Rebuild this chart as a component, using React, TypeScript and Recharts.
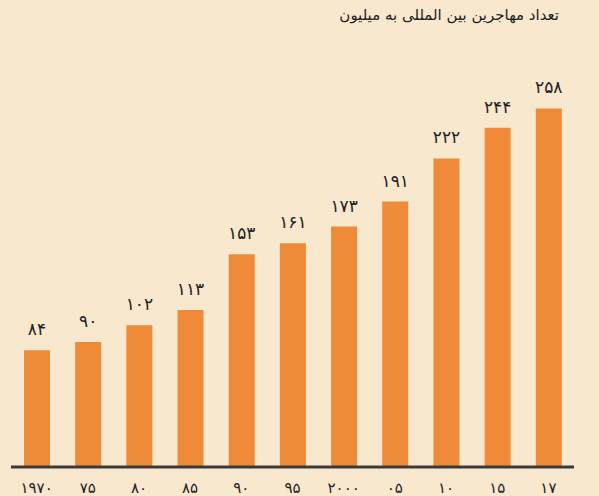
import React from "react";
import { BarChart, Bar, XAxis, YAxis, LabelList } from "recharts";

// --- Data ---
const years = ["۱۹۷۰", "۷۵", "۸۰", "۸۵", "۹۰", "۹۵", "۲۰۰۰", "۰۵", "۱۰", "۱۵", "۱۷"];
const migrants = [84, 90, 102, 113, 153, 161, 173, 191, 222, 244, 258];
const migrantLabels = ["۸۴", "۹۰", "۱۰۲", "۱۱۳", "۱۵۳", "۱۶۱", "۱۷۳", "۱۹۱", "۲۲۲", "۲۴۴", "۲۵۸"];

const title = "تعداد مهاجرین بین المللی به میلیون";

const BG = "#f7e8ce";
const BAR = "#ef8a38";
const FONT = "'DejaVu Sans', sans-serif";

const data = years.map((y, i) => ({ year: y, value: migrants[i], label: migrantLabels[i] }));

function YearTick(props: { x?: number; y?: number; payload?: { value: string } }) {
  const { x = 0, y = 0, payload } = props;
  return (
    <text x={x} y={y + 18} textAnchor="middle" fontFamily={FONT} fontSize={15} fill="#222">
      {payload?.value}
    </text>
  );
}

export default function App() {
  return (
    <div style={{ position: "fixed", left: 0, top: 0, width: 599, height: 496, background: BG }}>
      <div
        style={{
          position: "absolute",
          right: 40,
          top: 6,
          fontFamily: FONT,
          fontSize: 15,
          color: "#222",
          direction: "rtl",
        }}
      >
        {title}
      </div>
      <BarChart
        width={599}
        height={496}
        data={data}
        margin={{ top: 50, right: 25, bottom: 0, left: 11 }}
        barCategoryGap={0}
      >
        <XAxis
          dataKey="year"
          interval={0}
          tickLine={false}
          axisLine={{ stroke: "#3a3a3a", strokeWidth: 3 }}
          tick={<YearTick />}
          height={29}
        />
        <YAxis hide domain={[0, 300]} />
        <Bar dataKey="value" fill={BAR} barSize={26} isAnimationActive={false}>
          <LabelList
            dataKey="label"
            position="top"
            offset={15}
            fontFamily={FONT}
            fontSize={17}
            fill="#222"
          />
        </Bar>
      </BarChart>
    </div>
  );
}
